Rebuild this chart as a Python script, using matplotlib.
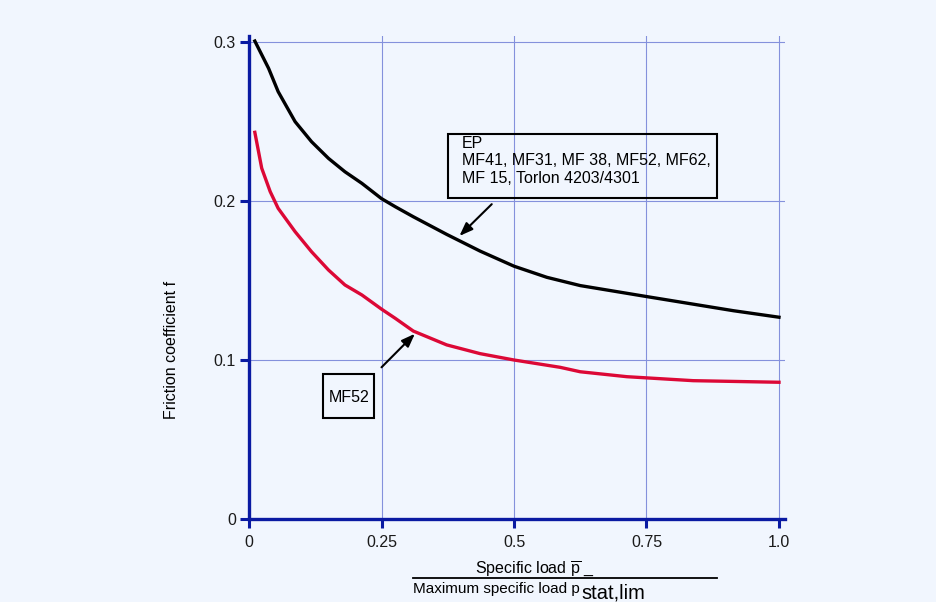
import matplotlib
matplotlib.use('Agg')
import matplotlib.pyplot as plt
from matplotlib.patches import Rectangle
from matplotlib.lines import Line2D

plt.rcParams['font.family'] = ['Liberation Sans', 'DejaVu Sans']
plt.rcParams['mathtext.fontset'] = 'custom'
plt.rcParams['mathtext.rm'] = 'Liberation Sans'

# friction coefficient vs. relative specific load
load_ep = [0.011, 0.037, 0.055, 0.087, 0.118, 0.150, 0.181, 0.213, 0.250, 0.276,
           0.310, 0.373, 0.436, 0.500, 0.562, 0.625, 0.752, 0.914, 1.000]
f_ep = [0.3006, 0.2834, 0.2688, 0.2499, 0.2373, 0.2268, 0.2184, 0.2111, 0.2015, 0.1964,
        0.1901, 0.1790, 0.1685, 0.1590, 0.1520, 0.1468, 0.1398, 0.1310, 0.1269]

load_mf52 = [0.011, 0.024, 0.040, 0.055, 0.087, 0.118, 0.150, 0.181, 0.213, 0.250,
             0.276, 0.310, 0.373, 0.436, 0.500, 0.587, 0.625, 0.713, 0.838, 1.000]
f_mf52 = [0.2432, 0.2206, 0.2059, 0.1954, 0.1807, 0.1681, 0.1566, 0.1472, 0.1409, 0.1320,
          0.1262, 0.1182, 0.1095, 0.1040, 0.1000, 0.0954, 0.0926, 0.0895, 0.0870, 0.0860]

xticks = [0, 0.25, 0.5, 0.75, 1.0]
xtick_labels = ['0', '0.25', '0.5', '0.75', '1.0']
yticks = [0, 0.1, 0.2, 0.3]
ytick_labels = ['0', '0.1', '0.2', '0.3']

label_ep = 'EP\nMF41, MF31, MF 38, MF52, MF62,\nMF 15, Torlon 4203/4301'
label_mf52 = 'MF52'

W, H = 937, 602
bg = '#f1f6fe'
navy = '#0a1aa2'
red = '#dc0836'
grid = '#8491dc'
fs = 11.5


def px(x, y):
    # pixel position -> figure fraction
    return x / W, 1 - y / H


fig = plt.figure(figsize=(W / 100, H / 100), dpi=100, facecolor=bg)
ax = fig.add_axes([249 / W, 1 - 519 / H, (785 - 249) / W, (519 - 36) / H])
ax.set_facecolor(bg)

ax.plot(load_ep, f_ep, color='black', lw=2.4, solid_joinstyle='round', zorder=3)
ax.plot(load_mf52, f_mf52, color=red, lw=2.4, solid_joinstyle='round', zorder=3)

ax.set_xlim(0, 536 / 530)
ax.set_ylim(0, 483 / 1590)
ax.set_xticks(xticks, xtick_labels)
ax.set_yticks(yticks, ytick_labels)
ax.grid(True, color=grid, lw=0.8)
ax.set_axisbelow(True)

for s in ['top', 'right']:
    ax.spines[s].set_visible(False)
for s in ['left', 'bottom']:
    ax.spines[s].set_color(navy)
    ax.spines[s].set_linewidth(2.4)
    ax.spines[s].set_zorder(4)

ax.tick_params(axis='both', colors=navy, width=2.2, length=6.5,
               labelcolor='#1a1a1a', labelsize=fs)
ax.tick_params(axis='x', pad=5)
ax.tick_params(axis='y', pad=3)
ax.xaxis.get_major_ticks()[-1].tick1line.set_color('black')

# annotation arrows
arrow = dict(arrowstyle='-|>,head_length=0.8,head_width=0.3', color='black',
             lw=1.5, shrinkA=0, shrinkB=0)
ax.annotate('', xy=(0.397, 0.178), xytext=(0.458, 0.198), arrowprops=arrow)
ax.annotate('', xy=(0.313, 0.1165), xytext=(0.250, 0.0954), arrowprops=arrow)

# labelled boxes
x0, y0 = px(448, 198)
x1, y1 = px(717, 134)
fig.patches.append(Rectangle((x0, y0), x1 - x0, y1 - y0, transform=fig.transFigure,
                             fill=False, ec='black', lw=1.5, zorder=5))
fig.text(*px(462, 136), label_ep, ha='left', va='top', fontsize=fs, linespacing=1.2)

x0, y0 = px(323, 418)
x1, y1 = px(374, 374)
fig.patches.append(Rectangle((x0, y0), x1 - x0, y1 - y0, transform=fig.transFigure,
                             fill=False, ec='black', lw=1.5, zorder=5))
fig.text(*px(349, 397), label_mf52, ha='center', va='center', fontsize=fs)

# axis titles
fig.text(*px(172, 350), 'Friction coefficient f', rotation=90,
         ha='center', va='center', fontsize=fs)

fig.text(*px(475, 573.5), r'Specific load $\overline{\mathrm{p}}$ _',
         ha='left', va='baseline', fontsize=fs)
fig.add_artist(Line2D([413 / W, 717 / W], [1 - 578 / H, 1 - 578 / H],
                      color='black', lw=1.3))
denom = fig.text(*px(413, 593.5), 'Maximum specific load p', ha='left',
                 va='baseline', fontsize=11)
bb = denom.get_window_extent(renderer=fig.canvas.get_renderer())
fig.text(bb.x1 / W + 1.5 / W, 1 - 598.5 / H, 'stat,lim', ha='left',
         va='baseline', fontsize=14.5)

fig.savefig('out.png', dpi=100, facecolor=bg)
